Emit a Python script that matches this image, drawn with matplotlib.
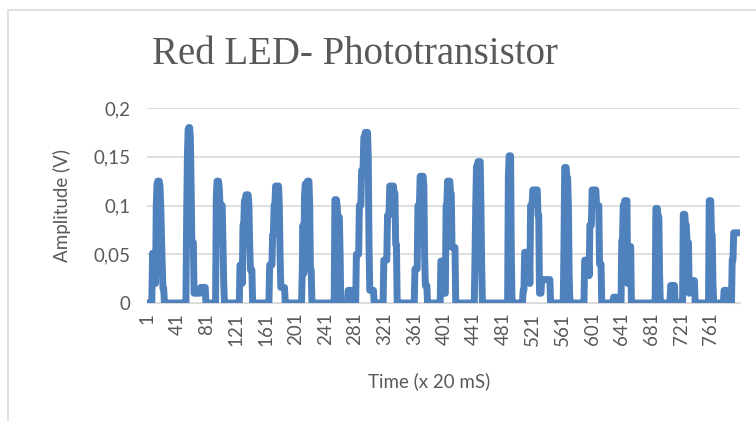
import numpy as np
import matplotlib.pyplot as plt
from matplotlib.patches import Rectangle

plt.rcParams["path.simplify"] = False

# waveform read off the chart as runs: value held up to (but not incl.) sample index seg_end
seg_end = [8, 12, 13, 14, 15, 18, 19, 20, 21, 22, 24,
           54, 55, 56, 57, 59, 60, 61, 64, 73, 80,
           94, 95, 98, 99, 103, 104, 105,
           126, 129, 130, 132, 134, 138, 139, 140, 143,
           166, 170, 172, 174, 179, 180, 181, 187,
           210, 211, 212, 213, 214, 217, 220, 221, 223,
           254, 257, 258, 261, 262, 272, 277,
           283, 287, 290, 293, 295, 299, 300, 301, 307,
           320, 325, 328, 334, 336, 338,
           362, 366, 369, 374, 375, 376, 379,
           397, 402, 404, 406, 410, 412, 417,
           443, 444, 445, 447, 451, 452, 453,
           488, 489, 492, 493,
           508, 510, 517, 518, 521, 528, 530, 533, 545,
           563, 564, 567, 569, 570, 571,
           591, 597, 598, 601, 607, 611, 614, 630, 635,
           641, 643, 645, 649, 650, 654,
           687, 690, 692, 693, 707, 713,
           724, 727, 729, 732, 733, 740,
           759, 762, 764, 765, 779, 784, 790, 792, 801]
seg_val = [0, 0.051, 0.02, 0.1, 0.122, 0.125, 0.12, 0.1, 0.07, 0.04, 0.015,
           0, 0.09, 0.15, 0.178, 0.18, 0.17, 0.12, 0.062, 0.01, 0.016,
           0, 0.11, 0.125, 0.118, 0.1, 0.06, 0.02,
           0, 0.039, 0.02, 0.08, 0.105, 0.111, 0.1, 0.06, 0.034,
           0, 0.039, 0.07, 0.1, 0.12, 0.1, 0.05, 0.016,
           0, 0.034, 0.08, 0.03, 0.11, 0.122, 0.125, 0.1, 0.034,
           0, 0.106, 0.1, 0.088, 0.05, 0, 0.013,
           0, 0.05, 0.1, 0.136, 0.17, 0.175, 0.15, 0.06, 0.013,
           0, 0.044, 0.09, 0.12, 0.112, 0.06,
           0, 0.035, 0.1, 0.13, 0.12, 0.05, 0.018,
           0, 0.043, 0.01, 0.1, 0.125, 0.112, 0.057,
           0, 0.047, 0.1, 0.14, 0.145, 0.1, 0.04,
           0, 0.13, 0.151, 0.05,
           0, 0.013, 0.052, 0.02, 0.1, 0.116, 0.09, 0.01, 0.024,
           0, 0.056, 0.139, 0.128, 0.1, 0.03,
           0, 0.044, 0.028, 0.08, 0.116, 0.1, 0.04, 0, 0.006,
           0, 0.064, 0.1, 0.105, 0.02, 0.058,
           0, 0.097, 0.088, 0.03, 0, 0.018,
           0, 0.091, 0.08, 0.062, 0.01, 0.023,
           0, 0.105, 0.07, 0.02, 0, 0.013, 0, 0.044, 0.072]

x_ticks = list(range(1, 801, 40))
y_ticks = [0, 0.05, 0.1, 0.15, 0.2]
y_labels = ["0", "0,05", "0,1", "0,15", "0,2"]

lengths = np.diff([1] + seg_end)
amplitude = np.repeat(seg_val, lengths)
samples = np.arange(1, len(amplitude) + 1)

txt = "#595959"
fig = plt.figure(figsize=(7.56, 4.21), dpi=100)
fig.patches.append(Rectangle((8 / 756, -0.05), 1.1, 1.05 - 10 / 421,
                             transform=fig.transFigure, fill=False,
                             edgecolor="#d9d9d9", lw=1.2))

ax = fig.add_axes([147 / 756, 118 / 421, 593 / 756, 195 / 421])
ax.plot(samples, amplitude, color="#4f81bd", lw=5.0,
        solid_joinstyle="round", solid_capstyle="round", zorder=3)

ax.set_xlim(0.5, 800.5)
ax.set_ylim(0, 0.2)
ax.set_yticks(y_ticks)
ax.set_yticklabels(y_labels)
ax.set_xticks(x_ticks)
ax.set_xticklabels([str(t) for t in x_ticks], rotation=90)
ax.tick_params(length=0, colors=txt, labelsize=13.5)
ax.tick_params(axis="y", pad=12)
ax.tick_params(axis="x", pad=7)
for lbl in ax.get_xticklabels() + ax.get_yticklabels():
    lbl.set_family("Lato")

ax.grid(axis="y", color="#d9d9d9", lw=1.2, zorder=0)
for s in ["top", "right", "left"]:
    ax.spines[s].set_visible(False)
ax.spines["bottom"].set_color("#d9d9d9")

ax.set_ylabel("Amplitude (V)", fontsize=13.5, color=txt, family="Lato", labelpad=16)
ax.set_xlabel("Time (x 20 mS)", fontsize=13.5, color=txt, family="Lato")
ax.xaxis.set_label_coords(0.476, -0.355)
fig.text(152 / 756, 1 - 54 / 421, "Red LED- Phototransistor", fontsize=28,
         family="Liberation Serif", color=txt, va="center", ha="left")

fig.savefig("out.png", dpi=100)
